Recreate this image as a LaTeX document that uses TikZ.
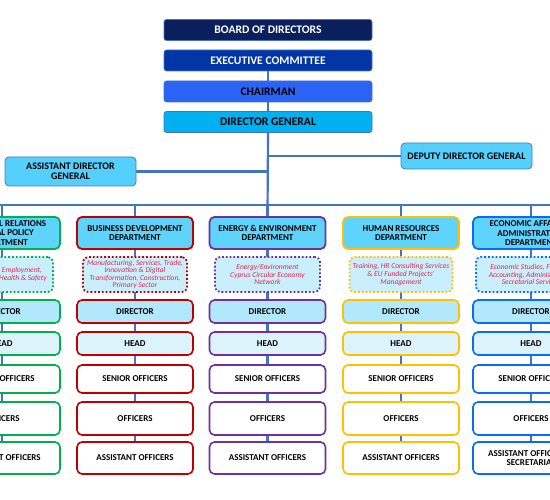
\documentclass[tikz,border=0pt]{standalone}
\usepackage{fontspec}
\setmainfont{Carlito}
\usetikzlibrary{backgrounds}
\definecolor{conn}{HTML}{4472C4}
\definecolor{navy}{HTML}{0B1F5C}
\definecolor{execc}{HTML}{0236A6}
\definecolor{chair}{HTML}{2B63F5}
\definecolor{dgc}{HTML}{00B0F0}
\definecolor{sidefill}{HTML}{55CFFC}
\definecolor{sideline}{HTML}{3F7FC4}
\definecolor{deptfill}{HTML}{5ED4FC}
\definecolor{blurbfill}{HTML}{C9EFFC}
\definecolor{dirfill}{HTML}{B2E8FB}
\definecolor{headfill}{HTML}{DCF3FC}
\definecolor{blurbtext}{HTML}{E3264F}
\definecolor{cgreen}{HTML}{00B050}
\definecolor{cred}{HTML}{C00000}
\definecolor{cpurple}{HTML}{7030A0}
\definecolor{cgold}{HTML}{FFC000}
\definecolor{cblue}{HTML}{0A6CF5}
\tikzset{
 topbox/.style={rectangle, rounded corners=2.5pt, minimum width=208pt, minimum height=21pt, inner sep=0pt, draw=conn, line width=0.6pt, font=\fontsize{11.6}{13}\selectfont\bfseries},
 sidebox/.style={rectangle, rounded corners=4pt, minimum width=131pt, inner sep=0pt, fill=sidefill, draw=sideline, line width=0.8pt, align=center, font=\fontsize{10}{10}\selectfont\bfseries},
 deptbox/.style={rectangle, rounded corners=5pt, minimum width=116pt, minimum height=32pt, inner sep=0pt, fill=deptfill, line width=1.8pt, align=center, font=\fontsize{9}{9.5}\selectfont\bfseries},
 blurbbox/.style={rectangle, rounded corners=5pt, minimum height=35pt, inner sep=0pt, fill=blurbfill, line width=1.8pt, dotted, align=center, text=blurbtext, font=\fontsize{7.5}{7.6}\selectfont\itshape},
 levbox/.style={rectangle, rounded corners=5pt, minimum width=116pt, inner sep=0pt, fill=white, line width=1.6pt, align=center, font=\fontsize{9}{8.6}\selectfont\bfseries},
 connline/.style={draw=conn, line width=2.2pt}
}
\newcommand\orgcol[7]{%
 \node[deptbox, draw=#3] (d#1) at (#2,233) {#4};
 \node[blurbbox, draw=#3, minimum width=#7] (b#1) at (#2,274.5) {#5};
 \node[levbox, draw=#3, fill=dirfill, minimum height=23pt] (dir#1) at (#2,311.5) {DIRECTOR};
 \node[levbox, draw=#3, fill=headfill, minimum height=23pt] (head#1) at (#2,343.5) {HEAD};
 \node[levbox, draw=#3, minimum height=28pt] (sen#1) at (#2,379) {SENIOR OFFICERS};
 \node[levbox, draw=#3, minimum height=33pt] (off#1) at (#2,418.5) {OFFICERS};
 \node[levbox, draw=#3, minimum height=32pt] (ast#1) at (#2,458) {#6};
 \coordinate (bus#1) at (#2,205);
}
\begin{document}
\begin{tikzpicture}[x=1pt,y=-1pt]
\useasboundingbox (0,0) rectangle (550,500);
\clip (0,0) rectangle (550,500);
\node[topbox, fill=navy, text=white] (bd) at (268,30) {BOARD OF DIRECTORS};
\node[topbox, fill=execc, text=white] (ex) at (268,60.5) {EXECUTIVE COMMITTEE};
\node[topbox, fill=chair, text=black] (ch) at (268,91.5) {CHAIRMAN};
\node[topbox, fill=dgc, text=black] (dg) at (268,122) {DIRECTOR GENERAL};
\node[sidebox, minimum height=29pt] (adg) at (70.5,171.5) {ASSISTANT DIRECTOR\\GENERAL};
\node[sidebox, minimum height=26pt] (ddg) at (466.5,156) {DEPUTY DIRECTOR GENERAL};
\orgcol{1}{2}{cgreen}{INDUSTRIAL RELATIONS\\\& SOCIAL POLICY\\DEPARTMENT}{Social Policy, Employment,\\Occupational Health \& Safety}{ASSISTANT OFFICERS}{102pt}
\orgcol{2}{135}{cred}{BUSINESS DEVELOPMENT\\DEPARTMENT}{Manufacturing, Services, Trade,\\Innovation \& Digital\\Transformation, Construction,\\Primary Sector}{ASSISTANT OFFICERS}{104pt}
\orgcol{3}{267.5}{cpurple}{ENERGY \& ENVIRONMENT\\DEPARTMENT}{Energy/Environment\\Cyprus Circular Economy\\Network}{ASSISTANT OFFICERS}{105pt}
\orgcol{4}{401}{cgold}{HUMAN RESOURCES\\DEPARTMENT}{Training, HR Consulting Services\\\& EU Funded Projects'\\Management}{ASSISTANT OFFICERS}{103pt}
\orgcol{5}{531}{cblue}{ECONOMIC AFFAIRS \&\\ADMINISTRATION\\DEPARTMENT}{Economic Studies, Finance,\\Accounting, Administration,\\Secretarial Services}{ASSISTANT OFFICERS \&\\SECRETARIAT}{110pt}
\coordinate (busL) at (-20,205);
\coordinate (busR) at (570,205);
\begin{pgfonlayer}{background}
 \draw[connline] (ex) -- (ch);
 \draw[connline] (ch) -- (dg);
 \draw[connline] (dg.south) -- (d3.north);
 \draw[connline] (adg.east) -- (adg.east -| dg.south);
 \draw[connline] (ddg.west) -- (ddg.west -| dg.south);
 \draw[connline] (busL) -- (busR);
 \foreach \i in {1,...,5} {\draw[connline] (bus\i) -- (ast\i);}
\end{pgfonlayer}
\end{tikzpicture}
\end{document}
